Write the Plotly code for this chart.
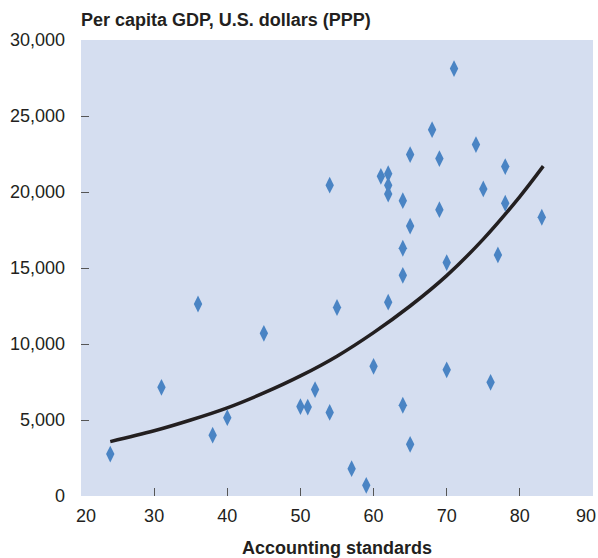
import plotly.graph_objects as go

# Scatter data: accounting standards score vs per capita GDP (PPP, US$)
acc_std = [24, 31, 36, 38, 40, 45, 50, 51, 52, 54, 54, 55, 57, 59, 60,
           61, 62, 62, 62, 62, 64, 64, 64, 64, 65, 65, 65, 68, 69, 69,
           70, 70, 71, 74, 75, 76, 77, 78, 78, 83]
gdp = [2760, 7150, 12630, 4000, 5150, 10700, 5880, 5850, 7000, 5500, 20450, 12400, 1800, 700, 8530,
       21030, 21200, 20440, 19870, 12750, 19430, 16300, 14520, 5970, 22460, 17760, 3400, 24100, 22200, 18840,
       15360, 8300, 28120, 23120, 20200, 7480, 15860, 21670, 19260, 18340]

# Trend curve
trend_x = [24, 30, 35, 40, 45, 50, 55, 60, 65, 70, 75, 80, 83.2]
trend_y = [3580, 4290, 5000, 5800, 6780, 7900, 9200, 10750, 12500, 14500, 16900, 19700, 21700]

x_ticks = [20, 30, 40, 50, 60, 70, 80, 90]
x_tick_text = ["&nbsp;&nbsp;20", "30", "40", "50", "60", "70", "80", ""]
last_x_label = "90"  # drawn right-aligned so it stays inside the page
y_ticks = [0, 5000, 10000, 15000, 20000, 25000, 30000]
y_tick_text = ["0", "5,000", "10,000", "15,000", "20,000", "25,000", "30,000"]

FONT = "Liberation Sans, Arial, Helvetica, sans-serif"
TXT = "#231F20"

fig = go.Figure()
fig.add_trace(go.Scatter(
    x=trend_x, y=trend_y, mode="lines",
    line=dict(color=TXT, width=3.5, shape="spline"),
    hoverinfo="skip", showlegend=False))
fig.add_trace(go.Scatter(
    x=acc_std, y=gdp, mode="markers",
    marker=dict(symbol="diamond-tall", size=12, color="#4A84C4", line=dict(width=0)),
    hoverinfo="x+y", showlegend=False))

fig.update_layout(
    width=598, height=558,
    margin=dict(l=81, r=5, t=40, b=62),
    paper_bgcolor="white",
    plot_bgcolor="#D5DEF0",
    font=dict(family=FONT, size=18, color=TXT),
    xaxis=dict(
        range=[20, 90], tickvals=x_ticks, ticktext=x_tick_text, ticks="inside", ticklen=8,
        tickwidth=1.3, tickcolor="#555555", showgrid=False, zeroline=False, showline=False,
        tickfont=dict(size=18, color=TXT), ticklabelstandoff=7, automargin=False,
        ticklabeloverflow="allow",
        title=dict(text="<b>Accounting standards</b>", font=dict(size=18, color=TXT), standoff=22),
        fixedrange=True),
    yaxis=dict(
        range=[0, 30000], tickvals=y_ticks, ticktext=y_tick_text, ticks="inside", ticklen=8,
        tickwidth=1.3, tickcolor="#555555", showgrid=False, zeroline=False, showline=False,
        tickfont=dict(size=18, color=TXT), ticklabelstandoff=15, automargin=False,
        fixedrange=True),
    annotations=[
        dict(text="<b>Per capita GDP, U.S. dollars (PPP)</b>", xref="paper", yref="paper",
             x=0, y=1, xanchor="left", yanchor="bottom", yshift=8, xshift=-2, showarrow=False,
             font=dict(size=18, color=TXT)),
        dict(text=last_x_label, xref="x", yref="paper", x=x_ticks[-1], y=0,
             xanchor="right", yanchor="middle", xshift=5, yshift=-20, showarrow=False,
             font=dict(size=18, color=TXT)),
    ],
)

fig.write_html("out.html", config={"displayModeBar": False},
               post_script="document.body.style.margin='0';document.body.style.padding='0';")
